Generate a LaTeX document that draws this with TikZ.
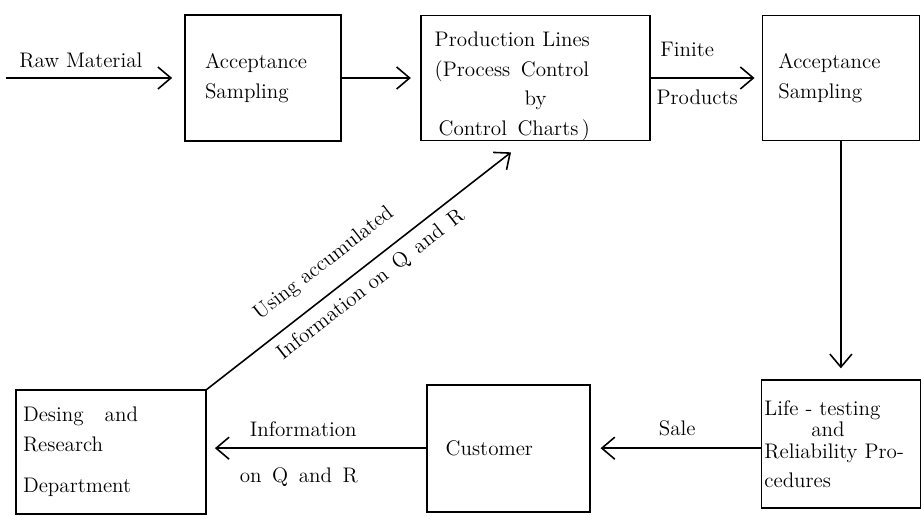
\documentclass[tikz,border=0pt]{standalone}
\usepackage{tikz}
\usetikzlibrary{
    arrows.meta,
    positioning,
    calc
}

\begin{document}
\begin{tikzpicture}[
    x=0.02cm,
    y=-0.02cm,
%
    box/.style={
        draw,
        line width=1pt,
        align=left,
        inner ysep=0pt,
        font=\large\linespread{1.2}\selectfont
    },
%
    arrow/.style={
        -{Straight Barb[length=2.6mm,width=4.4mm]},
        line width=0.9pt
    },
%
    note/.style={
        font=\large
    }
]
\useasboundingbox (0,0) rectangle (921,516);
%
% Upper row: incoming material, production and final sampling.
%
\node[
    box,
    text width=2.32cm,
    inner xsep=0.4cm,
    minimum height=2.52cm
] (acc1) at (263,78) {
    Acceptance\\
    Sampling
};
\node[
    box,
    right=1.56cm of acc1,
    text width=4.02cm,
    inner xsep=0.28cm,
    minimum height=2.48cm
] (prod) {
    \rule{0pt}{0.62cm}Production Lines\\
    (Process\enspace Control\\
    \hspace*{1.8cm}by\\
    \hspace*{0.08cm}Control\enspace Charts\,)
};
\node[
    box,
    right=2.22cm of prod,
    text width=2.5cm,
    inner xsep=0.32cm,
    minimum height=2.5cm
] (acc2) {
    Acceptance\\
    Sampling
};
%
% Lower row: testing, sale and the feedback to design.
%
\node[
    box,
    below=4.76cm of acc2,
    text width=3.06cm,
    inner xsep=0.06cm,
    minimum height=2.56cm
] (life) {
    Life - testing\\[-0.16cm]
    \hspace*{0.94cm}and\\[-0.16cm]
    Reliability Pro-\\
    cedures
};
\node[
    box,
    left=3.4cm of life,
    yshift=-0.08cm,
    text width=2.5cm,
    inner xsep=0.38cm,
    minimum height=2.54cm
] (cust) {Customer};
\node[
    box,
    left=4.38cm of cust,
    yshift=-0.08cm,
    text width=3.52cm,
    inner xsep=0.14cm,
    minimum height=2.48cm
] (dept) {
    Desing\quad and\\
    Research\\[0.24cm]
    Department
};
%
\coordinate (raw) at (6,78);
\draw[arrow, shorten >=0.24cm] (raw) -- (acc1)
    node[note, pos=0.42, above=2pt] {Raw Material};
\draw[arrow, shorten >=0.18cm] (acc1) -- (prod);
\draw[arrow, shorten >=0.14cm] (prod) -- (acc2)
    node[note, pos=0.33, above=0.3cm] {Finite}
    node[note, pos=0.42, below=0.1cm] {Products};
\draw[arrow, shorten >=0.22cm] (acc2) -- (life);
\draw[arrow, shorten >=0.2cm] (life.west |- cust) -- (cust)
    node[note, pos=0.49, above=0.12cm] {Sale};
\draw[arrow, shorten >=0.16cm] (cust.west) -- (cust.west -| dept.east)
    node[note, pos=0.56, above=0.1cm] {Information}
    node[note, pos=0.58, below=0.25cm] {on\enspace Q\enspace and\enspace R};
\draw[arrow, shorten >=0.36cm] (dept.north east) -- ([xshift=-0.2cm]prod.south)
    node[note, sloped, pos=0.42, above=0.22cm] {Using accumulated}
    node[note, sloped, pos=0.48, below=0.05cm] {Information on\enspace Q\enspace and\enspace R};
%
\end{tikzpicture}
\end{document}
